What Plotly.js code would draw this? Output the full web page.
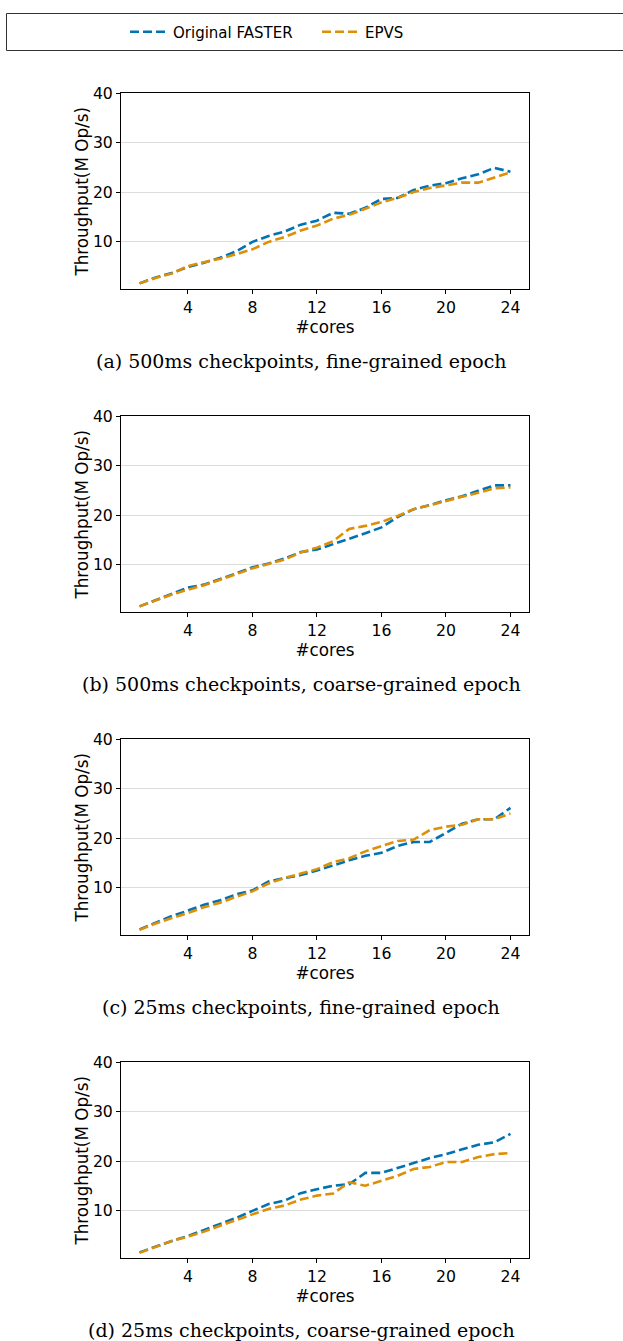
<!DOCTYPE html>
<html>
<head>
<meta charset="utf-8">
<script src="https://cdn.plot.ly/plotly-3.0.1.min.js"></script>
<style>
html,body{margin:0;padding:0;background:#fff;}
#chart{width:623px;height:1341px;}
</style>
</head>
<body>
<div id="chart"></div>
<script>
// ---- data ----
const cores = [1,2,3,4,5,6,7,8,9,10,11,12,13,14,15,16,17,18,19,20,21,22,23,24];
const seriesNames = ["Original FASTER", "EPVS"];
const captions = [
  "(a) 500ms checkpoints, fine-grained epoch",
  "(b) 500ms checkpoints, coarse-grained epoch",
  "(c) 25ms checkpoints, fine-grained epoch",
  "(d) 25ms checkpoints, coarse-grained epoch"
];
const fasterA = [1.5,2.7,3.6,4.8,5.7,6.7,8.0,9.9,11.1,12.0,13.4,14.2,15.8,15.6,16.8,18.6,18.8,20.4,21.3,21.8,22.8,23.6,24.9,24.1];
const epvsA   = [1.5,2.6,3.5,5.0,5.8,6.5,7.4,8.4,9.9,10.9,12.2,13.2,14.6,15.4,16.6,17.9,18.8,20.0,20.8,21.3,21.9,21.9,22.9,24.0];
const fasterB = [1.5,2.8,4.1,5.3,5.9,7.0,8.2,9.4,10.2,11.2,12.5,13.0,14.1,15.1,16.3,17.5,19.6,21.2,22.0,23.0,23.8,24.9,26.0,26.0];
const epvsB   = [1.5,2.7,3.9,4.9,5.8,6.9,8.0,9.2,10.1,11.0,12.4,13.4,14.7,17.2,17.8,18.6,19.8,21.2,22.0,22.9,23.7,24.5,25.4,25.6];
const fasterC = [1.5,2.9,4.2,5.3,6.5,7.4,8.6,9.4,11.2,11.9,12.5,13.4,14.5,15.5,16.4,17.0,18.4,19.2,19.2,21.0,22.9,23.8,23.8,26.1];
const epvsC   = [1.4,2.7,3.8,4.8,6.0,6.9,8.1,9.2,10.8,11.9,12.8,13.7,15.1,15.9,17.3,18.3,19.4,19.7,21.6,22.3,22.7,23.8,23.8,25.0];
const fasterD = [1.5,2.7,3.8,4.8,6.0,7.2,8.5,9.9,11.3,12.0,13.5,14.3,15.0,15.3,17.6,17.6,18.6,19.5,20.6,21.4,22.3,23.3,23.8,25.5];
const epvsD   = [1.4,2.6,3.8,4.7,5.7,6.9,8.1,9.2,10.3,11.0,12.2,13.0,13.4,15.7,15.0,16.0,17.0,18.4,18.8,19.8,19.8,20.8,21.4,21.6];
const xTicks = [4,8,12,16,20,24];
const yTicks = [10,20,30,40];
const xTitle = "#cores";
const yTitle = "Throughput(M Op/s)";

const panels = [[fasterA, epvsA],[fasterB, epvsB],[fasterC, epvsC],[fasterD, epvsD]];

// ---- layout geometry (pixels) ----
const W = 623, H = 1341;
const plotLeft = 121, plotRight = 529;
const panelTop0 = 93.3, panelH = 196, panelStep = 323;
const colors = ["#0173b2", "#de8f05"];
const font = "DejaVu Sans, sans-serif";
const legendX = [125, 317];

const data = [];
const layout = {
  width: W, height: H,
  margin: {l:0, r:0, t:0, b:0},
  paper_bgcolor: "#fff", plot_bgcolor: "#fff",
  font: {family: font, color: "#000"},
  showlegend: true,
  shapes: [{
    type: "path", xref: "paper", yref: "paper",
    path: "M 1.1," + (1 - 13.5/H) + " L " + (6.5/W) + "," + (1 - 13.5/H) +
          " L " + (6.5/W) + "," + (1 - 50.5/H) + " L 1.1," + (1 - 50.5/H),
    line: {color: "#333", width: 1}
  }],
  annotations: []
};
["legend", "legend2"].forEach((lk, k) => {
  layout[lk] = {
    orientation: "h", x: legendX[k] / W, xanchor: "left",
    y: 1 - 32/H, yanchor: "middle",
    font: {family: font, size: 15, color: "#000"},
    bgcolor: "rgba(0,0,0,0)", borderwidth: 0,
    itemwidth: 38
  };
});

panels.forEach((p, i) => {
  const n = i + 1;
  const xa = "x" + (n === 1 ? "" : n), ya = "y" + (n === 1 ? "" : n);
  const top = panelTop0 + i * panelStep, bot = top + panelH;
  p.forEach((vals, s) => {
    data.push({
      x: cores, y: vals, type: "scatter", mode: "lines",
      name: seriesNames[s], legendgroup: seriesNames[s],
      legend: s === 0 ? "legend" : "legend2",
      showlegend: i === 0,
      xaxis: xa, yaxis: ya,
      line: {color: colors[s], width: 2.6, dash: "9px,4px"},
      hoverinfo: "skip"
    });
  });
  const axBase = {
    showline: true, mirror: true, linecolor: "#000", linewidth: 1,
    ticks: "outside", ticklen: 4, tickcolor: "#000", tickwidth: 1,
    tickfont: {family: font, size: 15.7, color: "#000"},
    zeroline: false, fixedrange: true
  };
  layout["xaxis" + (n === 1 ? "" : n)] = Object.assign({}, axBase, {
    domain: [plotLeft / W, plotRight / W],
    anchor: ya,
    range: [-0.15, 25.15],
    tickvals: xTicks, ticktext: xTicks.map(String),
    showgrid: false,
    title: {text: xTitle, font: {family: font, size: 16.8, color: "#000"}, standoff: 0}
  });
  layout["yaxis" + (n === 1 ? "" : n)] = Object.assign({}, axBase, {
    domain: [1 - bot / H, 1 - top / H],
    anchor: xa,
    range: [0.3, 40],
    tickvals: yTicks, ticktext: yTicks.map(String),
    showgrid: true, gridcolor: "#dcdcdc", gridwidth: 1,
    title: {text: yTitle, font: {family: font, size: 16.8, color: "#000"}, standoff: 0}
  });
  layout.annotations.push({
    text: captions[i], xref: "paper", yref: "paper",
    x: 301 / W, y: 1 - (top + 267.5) / H,
    xanchor: "center", yanchor: "middle", showarrow: false,
    font: {family: "DejaVu Serif, serif", size: 19, color: "#000"}
  });
});

Plotly.newPlot("chart", data, layout, {staticPlot: true, displayModeBar: false});
</script>
</body>
</html>
